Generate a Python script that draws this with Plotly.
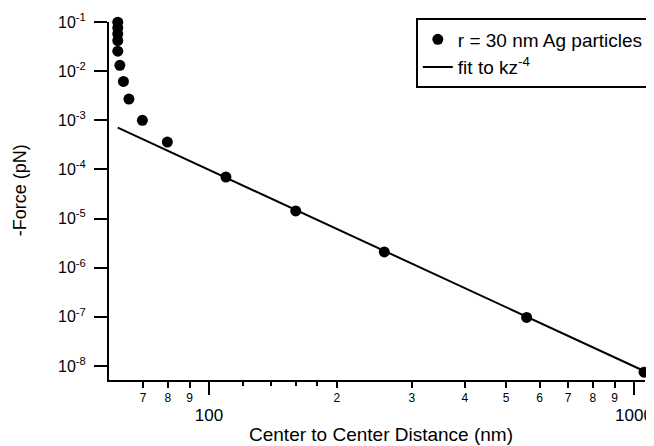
import plotly.graph_objects as go

# Data (log-log)
distance_nm = [61.0, 61.0, 61.0, 61.0, 61.0, 61.7, 62.9, 64.8, 69.7, 79.8,
               109.6, 160.0, 258.5, 559.0, 1056.0]
force_pN = [0.099, 0.076, 0.0575, 0.042, 0.0255, 0.0131, 0.00618, 0.0027,
            0.000995, 0.00036, 7.0e-5, 1.43e-5, 2.09e-6, 9.7e-8, 7.45e-9]

fit_x = [61.0, 1056.0]
fit_y = [7.08e-4, 7.87e-9]

y_tickvals = [1e-1, 1e-2, 1e-3, 1e-4, 1e-5, 1e-6, 1e-7, 1e-8]
y_ticktext = ["10<sup>-%d</sup>" % k for k in range(1, 9)]

x_major_vals = [100, 1000]
x_major_text = ["100", "1000"]
x_digit_vals = [70, 80, 90, 200, 300, 400, 500, 600, 700, 800, 900]
x_digit_text = ["7", "8", "9", "2", "3", "4", "5", "6", "7", "8", "9"]
x_minor_vals = [120, 140, 160, 180]

FONT = "Liberation Sans, Arial, sans-serif"
XR = [1.7647, 3.0259]
YR = [-8.287, -1.0]

fig = go.Figure()
fig.add_trace(go.Scatter(
    x=distance_nm, y=force_pN, mode="markers",
    marker=dict(color="black", size=11),
    name="r = 30 nm Ag particles", cliponaxis=False))
fig.add_trace(go.Scatter(
    x=fit_x, y=fit_y, mode="lines",
    line=dict(color="black", width=2),
    name="fit to kz<sup>-4</sup>", cliponaxis=False))
# invisible helper trace for the secondary (digit-label) x axis
fig.add_trace(go.Scatter(
    x=[100], y=[1e-5], xaxis="x2", mode="markers",
    marker=dict(opacity=0), showlegend=False, hoverinfo="skip"))

# page body has an 8px margin, so the figure is 8px smaller than the window
fig.update_layout(
    width=646, height=438,
    margin=dict(l=101, r=9, t=13.5, b=66, autoexpand=False),
    paper_bgcolor="white", plot_bgcolor="white",
    font=dict(family=FONT, size=16, color="black"),
    showlegend=True,
    legend=dict(
        x=1.009, y=1.0098, xanchor="right", yanchor="top",
        bordercolor="black", borderwidth=2, bgcolor="white",
        font=dict(size=19), tracegroupgap=0),
    xaxis=dict(
        type="log", range=XR, showgrid=False, zeroline=False,
        showline=True, linecolor="black", linewidth=2,
        ticks="outside", ticklen=13, tickwidth=2, tickcolor="black",
        tickvals=x_major_vals, ticktext=x_major_text,
        tickfont=dict(size=17), ticklabelstandoff=6,
        minor=dict(tickvals=x_minor_vals, ticks="outside", ticklen=4,
                   tickwidth=2, tickcolor="black", showgrid=False)),
    xaxis2=dict(
        type="log", range=XR, overlaying="x", side="bottom", anchor="y",
        showgrid=False, zeroline=False, showline=False,
        ticks="outside", ticklen=7, tickwidth=2, tickcolor="black",
        tickvals=x_digit_vals, ticktext=x_digit_text,
        tickfont=dict(size=12), ticklabelstandoff=0),
    yaxis=dict(
        type="log", range=YR, showgrid=False, zeroline=False,
        showline=True, linecolor="black", linewidth=2,
        ticks="outside", ticklen=13, tickwidth=2, tickcolor="black",
        tickvals=y_tickvals, ticktext=y_ticktext,
        tickfont=dict(size=16), ticklabelstandoff=5),
    annotations=[
        dict(text="Center to Center Distance (nm)", xref="paper", yref="paper",
             x=0.507, y=-0.153, xanchor="center", yanchor="middle",
             showarrow=False, font=dict(size=19)),
        dict(text="-Force (pN)", xref="paper", yref="paper",
             x=-0.166, y=0.53, xanchor="center", yanchor="middle",
             textangle=-90, showarrow=False, font=dict(size=18)),
    ],
)

fig.write_html("out.html")
